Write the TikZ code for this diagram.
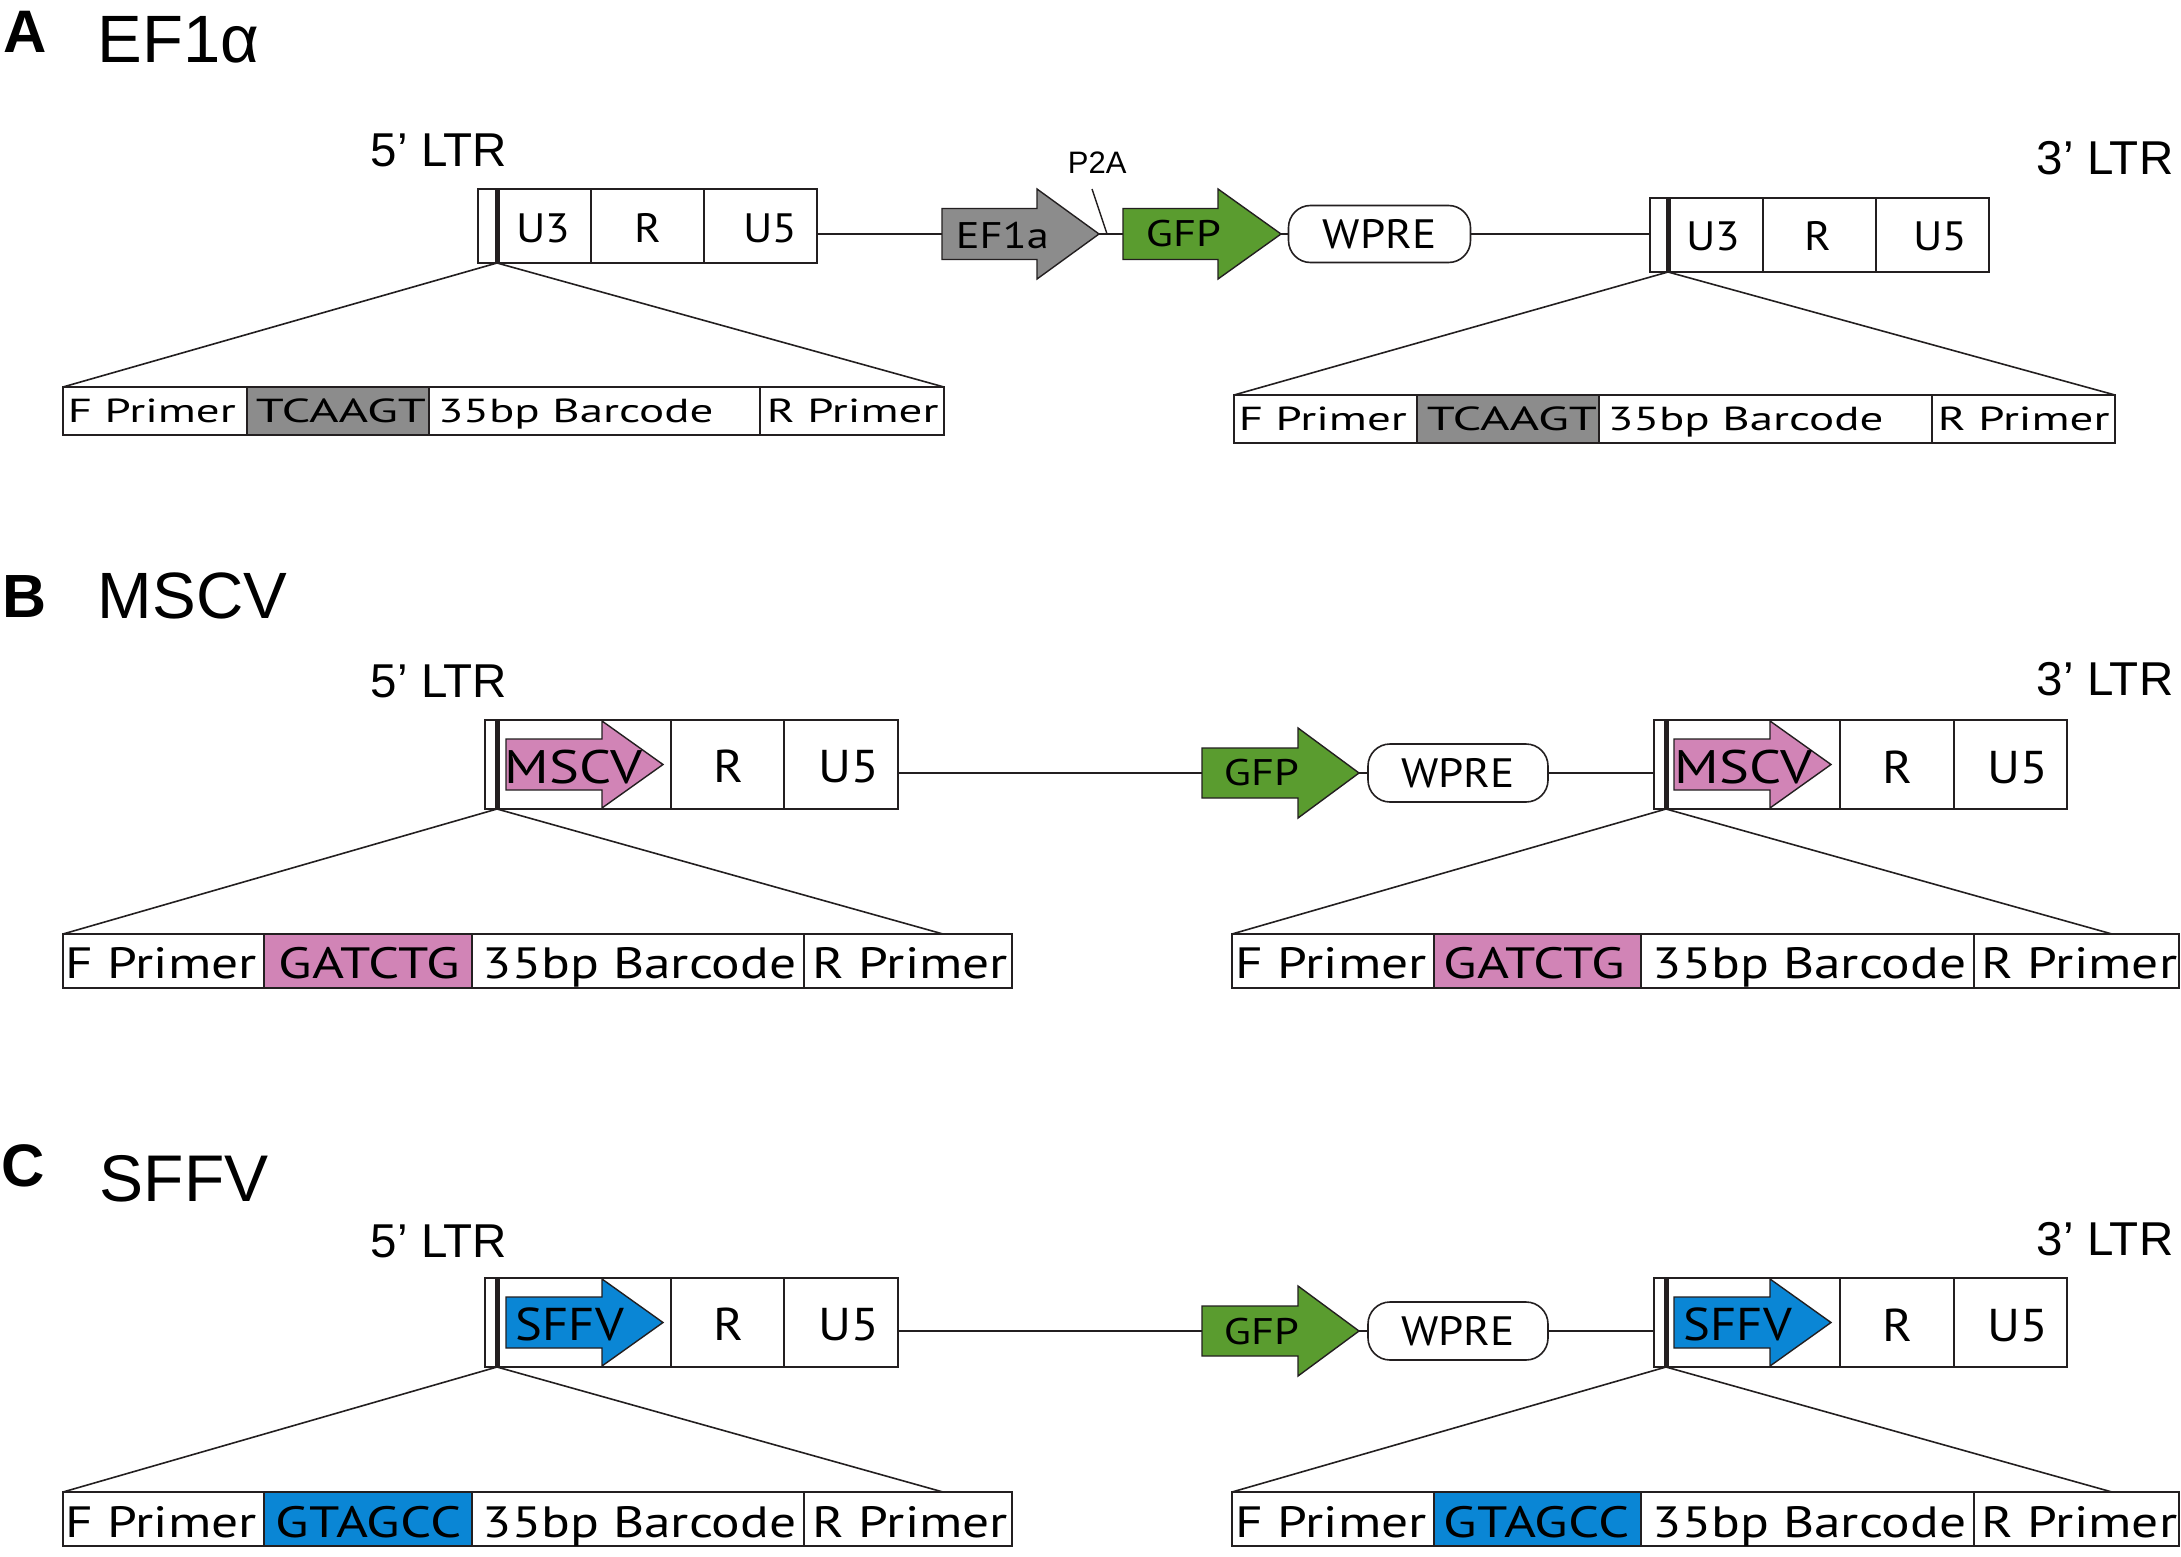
\documentclass[tikz,border=0pt]{standalone}
\usepackage{fontspec}
\setmainfont{Liberation Sans}
\newfontfamily\partfont[FakeStretch=1.1]{PT Sans}
\newfontfamily\genefont[FakeStretch=1.2]{PT Sans}
\newfontfamily\bcAfont[FakeStretch=1.41]{PT Sans}
\newfontfamily\bcAtagfont[FakeStretch=1.52]{PT Sans}
\newfontfamily\bcBfont[FakeStretch=1.22]{PT Sans}
\newfontfamily\bcBtagfont[FakeStretch=1.25]{PT Sans}
\usetikzlibrary{positioning}

\definecolor{promgray}{RGB}{140,140,140}
\definecolor{gfpgreen}{RGB}{90,156,47}
\definecolor{mscvpink}{RGB}{209,132,182}
\definecolor{sffvblue}{RGB}{10,134,213}
\definecolor{ink}{RGB}{35,31,32}

\tikzset{every picture/.style={line width=1.8pt}}
\tikzset{
  ltrcell/.style={draw=ink, inner sep=0pt, outer sep=0pt, minimum width=113pt},
  bccell/.style={draw=ink, inner sep=0pt, outer sep=0pt},
  wpre/.style={draw=ink, line width=1.6pt, rounded corners=22pt, inner sep=0pt, outer sep=0pt, minimum width=180pt, minimum height=57pt, font=\partfont\fontsize{41pt}{41pt}\selectfont},
  genearrow/.style={draw=ink, line width=1.4pt},
  ltrbar/.style={draw=ink, line width=5pt},
  zoomline/.style={draw=ink, line width=1.6pt},
  link/.style={draw=ink, line width=1.8pt},
  panellbl/.style={inner sep=0pt, anchor=base west, font=\bfseries\fontsize{60pt}{60pt}\selectfont},
  vectitle/.style={inner sep=0pt, anchor=base west, font=\fontsize{66pt}{66pt}\selectfont},
  ltrname/.style={inner sep=0pt, anchor=base west, font=\fontsize{47.5pt}{47.5pt}\selectfont},
  p2atxt/.style={inner sep=0pt, anchor=base west, font=\fontsize{31pt}{31pt}\selectfont},
  parttxtA/.style={inner sep=0pt, anchor=base, font=\partfont\fontsize{41pt}{41pt}\selectfont},
  parttxtB/.style={inner sep=0pt, anchor=base, font=\partfont\fontsize{46pt}{46pt}\selectfont},
  genetxt/.style={inner sep=0pt, anchor=base west, font=\genefont\fontsize{37pt}{37pt}\selectfont},
  promtxt/.style={inner sep=0pt, anchor=base west, font=\genefont\fontsize{47pt}{47pt}\selectfont},
  bctxtA/.style={inner sep=0pt, anchor=base west, font=\bcAfont\fontsize{33.3pt}{33.3pt}\selectfont},
  bctagA/.style={inner sep=0pt, anchor=base west, font=\bcAtagfont\fontsize{33.3pt}{33.3pt}\selectfont},
  bctxtB/.style={inner sep=0pt, anchor=base west, font=\bcBfont\fontsize{43.8pt}{43.8pt}\selectfont},
  bctagB/.style={inner sep=0pt, anchor=base west, font=\bcBtagfont\fontsize{43.8pt}{43.8pt}\selectfont},
}

\begin{document}
\begin{tikzpicture}[x=1pt,y=1pt,yscale=-1,xscale=1]
\path[use as bounding box, fill=white] (0,0) rectangle (2181,1557);

%%%%%%%%%% A  EF1a %%%%%%%%%%
\node[panellbl] (labA) at (3,53) {A};
\node[vectitle, font=\fontsize{67pt}{67pt}\selectfont] (titA) at (97,63) {EF1α};
\node[ltrname] (a5name) at (370,167) {5’ LTR};
\node[ltrname] (a3name) at (2036,175) {3’ LTR};

%Shape: Rectangle (5' LTR)
\node[ltrcell, minimum height=74pt, anchor=north west] (a5c1) at (478,189) {};
\node[ltrcell, minimum height=74pt, right=0pt of a5c1] (a5c2) {};
\node[ltrcell, minimum height=74pt, right=0pt of a5c2] (a5c3) {};
\coordinate (a5bar) at (497,263);
\draw[ltrbar] (497,189) -- (a5bar);
\node[parttxtA] (a5u3) at (543,242) {U3};
\node[parttxtA] (a5r) at (648,242) {R};
\node[parttxtA] (a5u5) at (770,242) {U5};

%Shape: Right Arrow (EF1a)
\coordinate (ef1aTail) at (942,234);
\coordinate (ef1aTip) at (1099,234);
\draw[genearrow, fill=promgray] (ef1aTail) ++(0,-25.5) -- ++(95,0) -- ++(0,-19.5) -- (ef1aTip) -- ++(-62,45) -- ++(0,-19.5) -- ++(-95,0) -- cycle;
\node[genetxt] (ef1aLbl) at (955,248) {EF1a};
%Straight Lines
\draw[link] (a5c3.east |- ef1aTail) -- (ef1aTail);

%P2A
\node[p2atxt] (p2a) at (1067,174) {P2A};
\coordinate (p2aTop) at (1092,189);
\coordinate (p2aFoot) at (1107,234);
\draw[genearrow] (p2aTop) -- (p2aFoot);

%Shape: Right Arrow (GFP)
\coordinate (gfpATail) at (1123,234);
\coordinate (gfpATip) at (1281,234);
\draw[genearrow, fill=gfpgreen] (gfpATail) ++(0,-25.5) -- ++(95,0) -- ++(0,-19.5) -- (gfpATip) -- ++(-63,45) -- ++(0,-19.5) -- ++(-95,0) -- cycle;
\node[genetxt] (gfpALbl) at (1145,247) {GFP};
\draw[link] (ef1aTip) -- (gfpATail);

%Shape: Rounded Rect (WPRE)
\node[wpre, minimum width=182pt] (wpreA) at (1379.5,234) {WPRE};
\draw[link] (gfpATip) -- (gfpATip -| wpreA.west);

%Shape: Rectangle (3' LTR)
\node[ltrcell, minimum height=74pt, anchor=north west] (a3c1) at (1650,198) {};
\node[ltrcell, minimum height=74pt, right=0pt of a3c1] (a3c2) {};
\node[ltrcell, minimum height=74pt, right=0pt of a3c2] (a3c3) {};
\coordinate (a3bar) at (1668,272);
\draw[ltrbar] (1668,198) -- (a3bar);
\node[parttxtA] (a3u3) at (1713,251) {U3};
\node[parttxtA] (a3r) at (1818,251) {R};
\node[parttxtA] (a3u5) at (1940,251) {U5};
\draw[link] (wpreA.east) -- (wpreA.east -| a3c1.west);

%Shape: Rectangle (barcode, left)
\node[bccell, minimum width=184pt, minimum height=48pt, anchor=north west] (a5f) at (63,387) {};
\node[bccell, minimum width=182pt, minimum height=48pt, right=0pt of a5f, fill=promgray] (a5tag) {};
\node[bccell, minimum width=331pt, minimum height=48pt, right=0pt of a5tag] (a5bc) {};
\node[bccell, minimum width=184pt, minimum height=48pt, right=0pt of a5bc] (a5rp) {};
\node[bctxtA] (a5fL) at (67,422) {F Primer};
\node[bctagA] (a5tagL) at (255,422) {TCAAGT};
\node[bctxtA] (a5bcL) at (437,422) {35bp Barcode};
\node[bctxtA] (a5rpL) at (766,422) {R Primer};
\draw[zoomline] (a5bar) -- (a5f.north west);
\draw[zoomline] (a5bar) -- (a5rp.north east);

%Shape: Rectangle (barcode, right)
\node[bccell, minimum width=183pt, minimum height=48pt, anchor=north west] (a3f) at (1234,395) {};
\node[bccell, minimum width=182pt, minimum height=48pt, right=0pt of a3f, fill=promgray] (a3tag) {};
\node[bccell, minimum width=333pt, minimum height=48pt, right=0pt of a3tag] (a3bc) {};
\node[bccell, minimum width=183pt, minimum height=48pt, right=0pt of a3bc] (a3rp) {};
\node[bctxtA] (a3fL) at (1238,430) {F Primer};
\node[bctagA] (a3tagL) at (1426,430) {TCAAGT};
\node[bctxtA] (a3bcL) at (1607,430) {35bp Barcode};
\node[bctxtA] (a3rpL) at (1937,430) {R Primer};
\draw[zoomline] (a3bar) -- (a3f.north west);
\draw[zoomline] (a3bar) -- (a3rp.north east);

%%%%%%%%%% B  MSCV %%%%%%%%%%
\node[panellbl, font=\bfseries\fontsize{61pt}{61pt}\selectfont] (labB) at (2,617) {B};
\node[vectitle, font=\fontsize{65.5pt}{65.5pt}\selectfont] (titB) at (97,618) {MSCV};
\node[ltrname] (b5name) at (370,697) {5’ LTR};
\node[ltrname] (b3name) at (2036,695) {3’ LTR};

%Shape: Rectangle (5' LTR)
\node[ltrcell, minimum width=186pt, minimum height=89pt, anchor=north west] (b5c1) at (485,720) {};
\node[ltrcell, minimum height=89pt, right=0pt of b5c1] (b5c2) {};
\node[ltrcell, minimum width=114pt, minimum height=89pt, right=0pt of b5c2] (b5c3) {};
\coordinate (mscv5Tail) at (506,764.5);
\draw[genearrow, fill=mscvpink] (mscv5Tail) ++(0,-25.5) -- ++(96,0) -- ++(0,-18) -- ++(61,43.5) -- ++(-61,43.5) -- ++(0,-18) -- ++(-96,0) -- cycle;
\coordinate (b5bar) at (497,809);
\draw[ltrbar] (497,720) -- (b5bar);
\node[promtxt] (mscv5L) at (504,783) {MSCV};
\node[parttxtB] (b5r) at (728.5,782) {R};
\node[parttxtB] (b5u5) at (849,782) {U5};

%Shape: Right Arrow (GFP)
\coordinate (gfpBTail) at (1202,773);
\coordinate (gfpBTip) at (1359,773);
\draw[genearrow, fill=gfpgreen] (gfpBTail) ++(0,-25) -- ++(96,0) -- ++(0,-20) -- (gfpBTip) -- ++(-61,45) -- ++(0,-20) -- ++(-96,0) -- cycle;
\node[genetxt] (gfpBL) at (1223,785) {GFP};
\draw[link] (b5c3.east |- gfpBTail) -- (gfpBTail);

\node[wpre, minimum height=58pt] (wpreB) at (1458,773) {WPRE};
\draw[link] (gfpBTip) -- (wpreB.west);

%Shape: Rectangle (3' LTR)
\node[ltrcell, minimum width=186pt, minimum height=89pt, anchor=north west] (b3c1) at (1654,720) {};
\node[ltrcell, minimum width=114pt, minimum height=89pt, right=0pt of b3c1] (b3c2) {};
\node[ltrcell, minimum height=89pt, right=0pt of b3c2] (b3c3) {};
\coordinate (mscv3Tail) at (1674,764.5);
\draw[genearrow, fill=mscvpink] (mscv3Tail) ++(0,-25.5) -- ++(96,0) -- ++(0,-18) -- ++(61,43.5) -- ++(-61,43.5) -- ++(0,-18) -- ++(-96,0) -- cycle;
\coordinate (b3bar) at (1666,809);
\draw[ltrbar] (1666,720) -- (b3bar);
\node[promtxt] (mscv3L) at (1674,783) {MSCV};
\node[parttxtB] (b3r) at (1898,783) {R};
\node[parttxtB] (b3u5) at (2018,783) {U5};
\draw[link] (wpreB.east) -- (wpreB.east -| b3c1.west);

%Shape: Rectangle (barcode, left)
\node[bccell, minimum width=201pt, minimum height=54pt, anchor=north west] (b5f) at (63,934) {};
\node[bccell, minimum width=208pt, minimum height=54pt, right=0pt of b5f, fill=mscvpink] (b5tag) {};
\node[bccell, minimum width=332pt, minimum height=54pt, right=0pt of b5tag] (b5bc) {};
\node[bccell, minimum width=208pt, minimum height=54pt, right=0pt of b5bc] (b5rp) {};
\node[bctxtB] (b5fL) at (65,978) {F Primer};
\node[bctagB] (b5tagL) at (278,978) {GATCTG};
\node[bctxtB] (b5bcL) at (482,978) {35bp Barcode};
\node[bctxtB] (b5rpL) at (812,978) {R Primer};
\coordinate (b5zoomEnd) at (943,934);
\draw[zoomline] (b5bar) -- (b5f.north west);
\draw[zoomline] (b5bar) -- (b5zoomEnd);

%Shape: Rectangle (barcode, right)
\node[bccell, minimum width=202pt, minimum height=54pt, anchor=north west] (b3f) at (1232,934) {};
\node[bccell, minimum width=207pt, minimum height=54pt, right=0pt of b3f, fill=mscvpink] (b3tag) {};
\node[bccell, minimum width=333pt, minimum height=54pt, right=0pt of b3tag] (b3bc) {};
\node[bccell, minimum width=205pt, minimum height=54pt, right=0pt of b3bc] (b3rp) {};
\node[bctxtB] (b3fL) at (1235,978) {F Primer};
\node[bctagB] (b3tagL) at (1443,978) {GATCTG};
\node[bctxtB] (b3bcL) at (1652,978) {35bp Barcode};
\node[bctxtB] (b3rpL) at (1981,978) {R Primer};
\coordinate (b3zoomEnd) at (2112,934);
\draw[zoomline] (b3bar) -- (b3f.north west);
\draw[zoomline] (b3bar) -- (b3zoomEnd);

%%%%%%%%%% C  SFFV %%%%%%%%%%
\node[panellbl] (labC) at (1,1186) {C};
\node[vectitle] (titC) at (99,1201) {SFFV};
\node[ltrname] (c5name) at (370,1257) {5’ LTR};
\node[ltrname] (c3name) at (2036,1255) {3’ LTR};

%Shape: Rectangle (5' LTR)
\node[ltrcell, minimum width=186pt, minimum height=89pt, anchor=north west] (c5c1) at (485,1278) {};
\node[ltrcell, minimum height=89pt, right=0pt of c5c1] (c5c2) {};
\node[ltrcell, minimum width=114pt, minimum height=89pt, right=0pt of c5c2] (c5c3) {};
\coordinate (sffv5Tail) at (506,1322.5);
\draw[genearrow, fill=sffvblue] (sffv5Tail) ++(0,-25.5) -- ++(96,0) -- ++(0,-18) -- ++(61,43.5) -- ++(-61,43.5) -- ++(0,-18) -- ++(-96,0) -- cycle;
\coordinate (c5bar) at (497,1367);
\draw[ltrbar] (497,1278) -- (c5bar);
\node[promtxt, font=\partfont\fontsize{46pt}{46pt}\selectfont] (sffv5L) at (515,1340) {SFFV};
\node[parttxtB] (c5r) at (728.5,1340) {R};
\node[parttxtB] (c5u5) at (849,1340) {U5};

%Shape: Right Arrow (GFP)
\coordinate (gfpCTail) at (1202,1331);
\coordinate (gfpCTip) at (1359,1331);
\draw[genearrow, fill=gfpgreen] (gfpCTail) ++(0,-25) -- ++(96,0) -- ++(0,-20) -- (gfpCTip) -- ++(-61,45) -- ++(0,-20) -- ++(-96,0) -- cycle;
\node[genetxt] (gfpCL) at (1223,1344) {GFP};
\draw[link] (c5c3.east |- gfpCTail) -- (gfpCTail);

\node[wpre, minimum height=58pt] (wpreC) at (1458,1331) {WPRE};
\draw[link] (gfpCTip) -- (wpreC.west);

%Shape: Rectangle (3' LTR)
\node[ltrcell, minimum width=186pt, minimum height=89pt, anchor=north west] (c3c1) at (1654,1278) {};
\node[ltrcell, minimum width=114pt, minimum height=89pt, right=0pt of c3c1] (c3c2) {};
\node[ltrcell, minimum height=89pt, right=0pt of c3c2] (c3c3) {};
\coordinate (sffv3Tail) at (1674,1322.5);
\draw[genearrow, fill=sffvblue] (sffv3Tail) ++(0,-25.5) -- ++(96,0) -- ++(0,-18) -- ++(61,43.5) -- ++(-61,43.5) -- ++(0,-18) -- ++(-96,0) -- cycle;
\coordinate (c3bar) at (1666,1367);
\draw[ltrbar] (1666,1278) -- (c3bar);
\node[promtxt, font=\partfont\fontsize{46pt}{46pt}\selectfont] (sffv3L) at (1683,1340) {SFFV};
\node[parttxtB] (c3r) at (1898,1341) {R};
\node[parttxtB] (c3u5) at (2018,1341) {U5};
\draw[link] (wpreC.east) -- (wpreC.east -| c3c1.west);

%Shape: Rectangle (barcode, left)
\node[bccell, minimum width=201pt, minimum height=54pt, anchor=north west] (c5f) at (63,1492) {};
\node[bccell, minimum width=208pt, minimum height=54pt, right=0pt of c5f, fill=sffvblue] (c5tag) {};
\node[bccell, minimum width=332pt, minimum height=54pt, right=0pt of c5tag] (c5bc) {};
\node[bccell, minimum width=208pt, minimum height=54pt, right=0pt of c5bc] (c5rp) {};
\node[bctxtB] (c5fL) at (65,1537) {F Primer};
\node[bctagB] (c5tagL) at (275,1537) {GTAGCC};
\node[bctxtB] (c5bcL) at (482,1537) {35bp Barcode};
\node[bctxtB] (c5rpL) at (812,1537) {R Primer};
\coordinate (c5zoomEnd) at (943,1492);
\draw[zoomline] (c5bar) -- (c5f.north west);
\draw[zoomline] (c5bar) -- (c5zoomEnd);

%Shape: Rectangle (barcode, right)
\node[bccell, minimum width=202pt, minimum height=54pt, anchor=north west] (c3f) at (1232,1492) {};
\node[bccell, minimum width=207pt, minimum height=54pt, right=0pt of c3f, fill=sffvblue] (c3tag) {};
\node[bccell, minimum width=333pt, minimum height=54pt, right=0pt of c3tag] (c3bc) {};
\node[bccell, minimum width=205pt, minimum height=54pt, right=0pt of c3bc] (c3rp) {};
\node[bctxtB] (c3fL) at (1235,1537) {F Primer};
\node[bctagB] (c3tagL) at (1443,1537) {GTAGCC};
\node[bctxtB] (c3bcL) at (1652,1537) {35bp Barcode};
\node[bctxtB] (c3rpL) at (1981,1537) {R Primer};
\coordinate (c3zoomEnd) at (2112,1492);
\draw[zoomline] (c3bar) -- (c3f.north west);
\draw[zoomline] (c3bar) -- (c3zoomEnd);

\end{tikzpicture}
\end{document}
